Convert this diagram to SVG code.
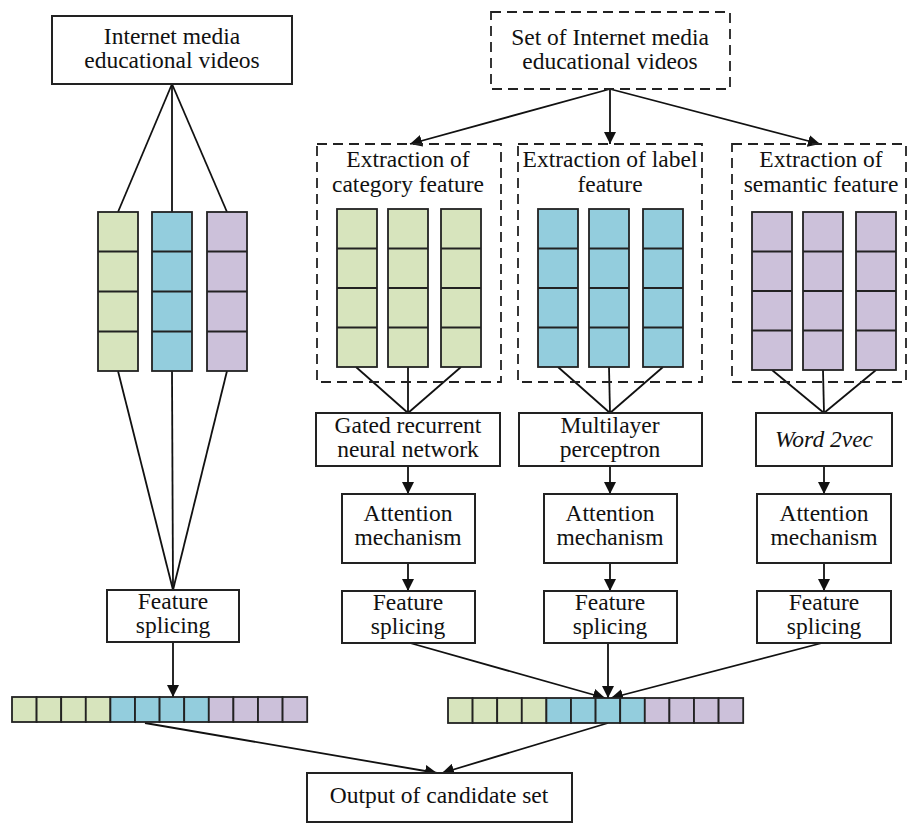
<svg xmlns="http://www.w3.org/2000/svg" xmlns:xlink="http://www.w3.org/1999/xlink" width="909" height="823" viewBox="0 0 909 823">
<style>
text{font-family:"Liberation Serif","Times New Roman",serif;font-size:23.5px;fill:#111;text-anchor:middle}
.box{fill:#fff;stroke:#222;stroke-width:2}
.dash{fill:none;stroke:#222;stroke-width:1.8;stroke-dasharray:10 6}
.g{fill:#d7e4bd}.b{fill:#93cddd}.p{fill:#ccc1da}
.cell{stroke:#222;stroke-width:1.8}
.ln{stroke:#222;stroke-width:2;fill:none}
.conn line{stroke:#111;stroke-width:1.8}
.arr{marker-end:url(#ah)}
</style>
<defs>
<marker id="ah" markerUnits="userSpaceOnUse" markerWidth="12" markerHeight="12" refX="12" refY="6" orient="auto">
<path d="M0,0 L12,6 L0,12 z" fill="#111"/>
</marker>
<g id="col"><rect class="cell" width="40" height="158" style="fill:inherit"/><path class="ln" d="M0 39.5H40M0 79H40M0 118.5H40"/></g>
<g id="colL"><rect class="cell" width="40" height="159" style="fill:inherit"/><path class="ln" d="M0 39.5H40M0 79.5H40M0 119.5H40"/></g>
<g id="bar">
<rect class="cell g" x="0" width="24.6" height="25"/><rect class="cell g" x="24.6" width="24.6" height="25"/><rect class="cell g" x="49.2" width="24.6" height="25"/><rect class="cell g" x="73.8" width="24.6" height="25"/>
<rect class="cell b" x="98.4" width="24.6" height="25"/><rect class="cell b" x="123" width="24.6" height="25"/><rect class="cell b" x="147.6" width="24.6" height="25"/><rect class="cell b" x="172.2" width="24.6" height="25"/>
<rect class="cell p" x="196.8" width="24.6" height="25"/><rect class="cell p" x="221.4" width="24.6" height="25"/><rect class="cell p" x="246" width="24.6" height="25"/><rect class="cell p" x="270.6" width="24.6" height="25"/>
</g>
</defs>
<rect width="909" height="823" fill="#fff"/>

<g id="connectors" class="conn">
<line x1="172" y1="84" x2="118" y2="212"/>
<line x1="172" y1="84" x2="172" y2="212"/>
<line x1="172" y1="84" x2="227" y2="212"/>
<line x1="118" y1="371" x2="173" y2="590"/>
<line x1="172" y1="371" x2="173" y2="590"/>
<line x1="227" y1="371" x2="173" y2="590"/>
<line class="arr" x1="173" y1="642" x2="173" y2="697"/>
<line class="arr" x1="610" y1="89" x2="410" y2="144"/>
<line class="arr" x1="610" y1="89" x2="610" y2="144"/>
<line class="arr" x1="610" y1="89" x2="820" y2="144"/>
<line x1="356" y1="367" x2="408" y2="413"/>
<line x1="408" y1="367" x2="408" y2="413"/>
<line x1="461" y1="367" x2="408" y2="413"/>
<line x1="558" y1="367" x2="610" y2="413"/>
<line x1="609" y1="367" x2="610" y2="413"/>
<line x1="663" y1="367" x2="610" y2="413"/>
<line x1="772" y1="370" x2="824" y2="413"/>
<line x1="823" y1="370" x2="824" y2="413"/>
<line x1="876" y1="370" x2="824" y2="413"/>
<line class="arr" x1="408" y1="466" x2="408" y2="494"/>
<line class="arr" x1="610" y1="466" x2="610" y2="494"/>
<line class="arr" x1="824" y1="466" x2="824" y2="494"/>
<line class="arr" x1="408" y1="563" x2="408" y2="591"/>
<line class="arr" x1="610" y1="563" x2="610" y2="591"/>
<line class="arr" x1="824" y1="563" x2="824" y2="591"/>
<line class="arr" x1="410" y1="643" x2="605" y2="698"/>
<line class="arr" x1="608" y1="643" x2="608" y2="698"/>
<line class="arr" x1="822" y1="643" x2="611" y2="698"/>
<line class="arr" x1="145" y1="723" x2="437" y2="773"/>
<line class="arr" x1="608" y1="723" x2="442" y2="773"/>
</g>

<g id="n-top-left">
<rect class="box" x="52" y="16" width="240" height="68"/>
<text x="172" y="44">Internet media</text>
<text x="172" y="68">educational videos</text>
</g>

<g id="n-left-columns">
<use href="#colL" x="98" y="212" class="g"/>
<use href="#colL" x="152" y="212" class="b"/>
<use href="#colL" x="207" y="212" class="p"/>
</g>

<g id="n-left-splicing">
<rect class="box" x="107" y="590" width="132" height="52"/>
<text x="173" y="609">Feature</text>
<text x="173" y="633">splicing</text>
</g>

<g id="n-left-bar"><use href="#bar" x="12" y="697"/></g>

<g id="n-top-right">
<rect class="dash" x="491" y="12" width="239" height="77" style="fill:#fff"/>
<text x="610" y="45">Set of Internet media</text>
<text x="610" y="69">educational videos</text>
</g>

<g id="n-category">
<rect class="dash" x="317" y="144" width="184" height="238"/>
<text x="408" y="167">Extraction of</text>
<text x="408" y="192">category feature</text>
<use href="#col" x="337" y="209" class="g"/>
<use href="#col" x="388" y="209" class="g"/>
<use href="#col" x="441" y="209" class="g"/>
</g>

<g id="n-label">
<rect class="dash" x="518" y="144" width="184" height="238"/>
<text x="610" y="167">Extraction of label</text>
<text x="610" y="192">feature</text>
<use href="#col" x="538" y="209" class="b"/>
<use href="#col" x="589" y="209" class="b"/>
<use href="#col" x="643" y="209" class="b"/>
</g>

<g id="n-semantic">
<rect class="dash" x="732" y="144" width="174" height="238"/>
<text x="821" y="167">Extraction of</text>
<text x="821" y="192">semantic feature</text>
<use href="#col" x="752" y="212" class="p"/>
<use href="#col" x="803" y="212" class="p"/>
<use href="#col" x="856" y="212" class="p"/>
</g>

<g id="n-gru">
<rect class="box" x="316" y="413" width="184" height="53"/>
<text x="408" y="433">Gated recurrent</text>
<text x="408" y="457">neural network</text>
</g>
<g id="n-mlp">
<rect class="box" x="519" y="413" width="183" height="53"/>
<text x="610" y="433">Multilayer</text>
<text x="610" y="457">perceptron</text>
</g>
<g id="n-word2vec">
<rect class="box" x="756" y="413" width="136" height="53"/>
<text x="824" y="447" font-style="italic">Word 2vec</text>
</g>

<g id="n-att1">
<rect class="box" x="342" y="494" width="133" height="69"/>
<text x="408" y="521">Attention</text>
<text x="408" y="545">mechanism</text>
</g>
<g id="n-att2">
<rect class="box" x="544" y="494" width="133" height="69"/>
<text x="610" y="521">Attention</text>
<text x="610" y="545">mechanism</text>
</g>
<g id="n-att3">
<rect class="box" x="757" y="494" width="134" height="69"/>
<text x="824" y="521">Attention</text>
<text x="824" y="545">mechanism</text>
</g>

<g id="n-fs1">
<rect class="box" x="342" y="591" width="133" height="52"/>
<text x="408" y="610">Feature</text>
<text x="408" y="634">splicing</text>
</g>
<g id="n-fs2">
<rect class="box" x="544" y="591" width="133" height="52"/>
<text x="610" y="610">Feature</text>
<text x="610" y="634">splicing</text>
</g>
<g id="n-fs3">
<rect class="box" x="757" y="591" width="134" height="52"/>
<text x="824" y="610">Feature</text>
<text x="824" y="634">splicing</text>
</g>

<g id="n-right-bar"><use href="#bar" x="448" y="698"/></g>

<g id="n-output">
<rect class="box" x="307" y="773" width="265" height="49"/>
<text x="439" y="803">Output of candidate set</text>
</g>
</svg>
